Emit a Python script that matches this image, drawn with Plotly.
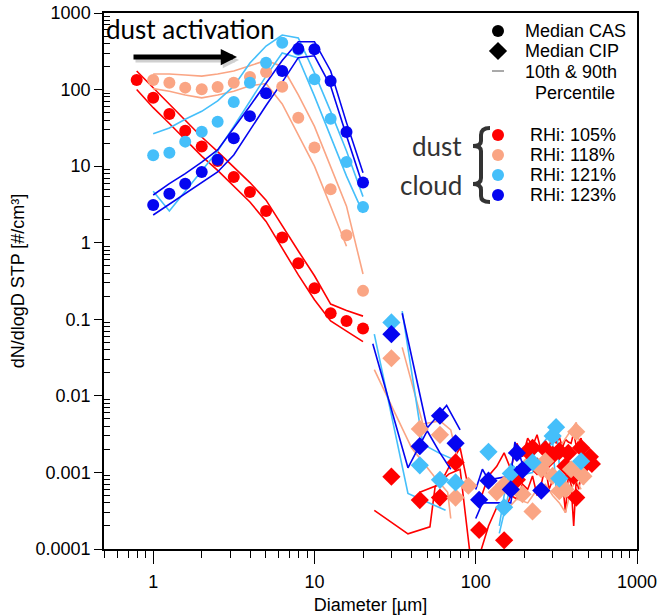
import plotly.graph_objects as go

# ---------------- data ----------------
x_cas = [0.79, 1.0, 1.26, 1.58, 2.0, 2.51, 3.16, 3.98, 5.01, 6.31, 7.94, 10.0, 12.6, 15.8, 20.0]

red_cas = [133, 78, 48, 29, 18, 11.7, 7.2, 4.6, 2.6, 1.17, 0.54, 0.255, 0.12, 0.095, 0.076]
red_cas_p90 = [175, 105, 64, 39, 24, 15.5, 9.6, 6.1, 3.6, 1.65, 0.78, 0.37, 0.158, 0.13, 0.11]
red_cas_p10 = [100, 58, 36, 22, 13.5, 8.8, 5.4, 3.4, 1.9, 0.83, 0.38, 0.18, 0.095, 0.07, 0.051]

x_cas2 = [1.0, 1.26, 1.58, 2.0, 2.51, 3.16, 3.98, 5.01, 6.31, 7.94, 10.0, 12.6, 15.8, 20.0]

salmon_cas = [133, 123, 106, 101, 108, 123, 146, 170, 109, 43, 17.5, 5.0, 1.25, 0.235]
salmon_cas_p90 = [160, 160, 155, 150, 160, 175, 205, 240, 200, 85, 33, 10, 3.0, 0.39]
salmon_cas_p10 = [103, 95, 85, 78, 85, 95, 112, 120, 65, 26, 10, 3.0, 0.9, None]

lblue_cas = [13.9, 15, 20.9, 28.2, 38, 69, 123, 224, 410, 330, 136, 41.7, 11.3, 2.93]
lblue_cas_p90 = [26.5, 31.5, 41, 52, 71, 111, 222, 370, 516, 472, 165, 52, 15.8, 4.0]
lblue_cas_p10 = [4.7, 2.6, 4.7, 8.6, 15.8, 33, 71, 150, 300, 259, 82, 25, 7.4, 2.45]

blue_cas = [3.11, 4.37, 5.9, 8.4, 12.1, 23.1, 45, 89.5, 175, 342, 336, 129, 27.9, 6.1]
blue_cas_p90 = [4.2, 5.9, 8.0, 11.3, 16.3, 31, 61, 121, 240, 422, 422, 175, 37, 8.2]
blue_cas_p10 = [2.3, 3.2, 4.4, 6.2, 8.4, 14, 30, 62, 125, 261, 276, 111, 25, 5.5]

red_cip_x = [30, 45, 60, 75, 105, 150, 180, 210, 225, 240, 270, 285, 300, 330, 360, 375, 405, 420, 450, 480, 510, 525]
red_cip = [0.00088, 0.000435, 0.00047, 0.00135, 0.000177, 0.00013, 0.0008, 0.0019, 0.0021, 0.0012,
           0.002, 0.0015, 0.0017, 0.0019, 0.0012, 0.0018, 0.0009, 0.00047, 0.0021, 0.0013, 0.0016, 0.00129]

salmon_cip_x = [30, 45, 60, 75, 90, 135, 150, 195, 225, 255, 270, 300, 330, 360, 390, 420, 450, 465]
salmon_cip = [0.031, 0.0037, 0.0031, 0.00047, 0.00067, 0.00055, 0.00069, 0.00052, 0.00031, 0.0011,
              0.0014, 0.0009, 0.00057, 0.0006, 0.0011, 0.0034, 0.00095, 0.00089]

lblue_cip_x = [30, 45, 60, 75, 120, 150, 165, 225, 300, 315, 330, 450]
lblue_cip = [0.091, 0.00124, 0.0008, 0.00074, 0.00186, 0.00035, 0.00097, 0.00135, 0.003, 0.0039, 0.00083, 0.0014]

blue_cip_x = [30, 45, 60, 75, 105, 120, 165, 180, 195, 255]
blue_cip = [0.064, 0.0022, 0.0055, 0.0024, 0.00044, 0.00078, 0.0006, 0.0018, 0.00108, 0.00058]

# CIP percentile lines (small sizes)
red_cip_p10_x = [23.5, 38, 52, 56, 68, 80, 95]
red_cip_p10 = [0.00032, 0.000158, 0.000195, 0.00065, 0.00095, 0.0011, 0.00005]
red_cip_p90_x = [45, 60, 70, 80, 88]
red_cip_p90 = [0.00055, 0.0007, 0.0013, 0.0021, 0.0008]
salmon_cip_p10_x = [23.5, 40, 55, 67, 70]
salmon_cip_p10 = [0.022, 0.0021, 0.0009, 0.00055, 0.00025]
salmon_cip_p90_x = [35, 47, 60, 70, 80]
salmon_cip_p90 = [0.043, 0.0043, 0.0047, 0.0036, 0.0011]
lblue_cip_p10_x = [23.5, 38, 65]
lblue_cip_p10 = [0.064, 0.00053, 0.00032]
lblue_cip_p90_x = [35, 47, 59, 77]
lblue_cip_p90 = [0.128, 0.00234, 0.0018, 0.0014]
blue_cip_p10_x = [23, 38, 50, 60, 70]
blue_cip_p10 = [0.048, 0.00115, 0.0035, 0.0018, 0.0011]
blue_cip_p90_x = [35, 50, 66, 80]
blue_cip_p90 = [0.12, 0.0038, 0.0075, 0.0036]

# CIP percentile lines (large sizes)
cl_x = [105, 120, 135, 150, 165, 180, 195, 210, 225, 240, 255, 270, 285, 300, 315, 330, 345, 360, 375, 390, 405, 420, 435, 450, 465, 480]
red_cl_p90 = [0.0004, 0.0009, 0.0012, 0.0018, 0.0011, 0.0024, 0.0016, 0.0028, 0.0022, 0.0031, 0.0019, 0.0026, 0.0021,
              0.0033, 0.0024, 0.0029, 0.0021, 0.0027, 0.0025, 0.0024, 0.0033, 0.0022, 0.0026, 0.0028, 0.0019, 0.0016]
red_cl_p10 = [0.00008, 0.0002, 0.00035, 0.0003, 0.0005, 0.00045, 0.0007, 0.0006, 0.0009, 0.0005, 0.0007, 0.0012, 0.0006,
              0.0008, 0.0009, 0.0005, 0.0008, 0.0003, 0.0009, 0.0007, 0.0002, 0.0008, 0.0006, 0.0009, 0.0007, 0.0011]
salmon_cl_x = [150, 180, 210, 240, 270, 300, 330, 360, 390, 420, 450]
salmon_cl_p90 = [0.0009, 0.0011, 0.0016, 0.0019, 0.0024, 0.0017, 0.0021, 0.0028, 0.0035, 0.0045, 0.0015]
salmon_cl_p10 = [0.0003, 0.00045, 0.0004, 0.0006, 0.0007, 0.0005, 0.0004, 0.0003, 0.0006, 0.0008, 0.0006]
lblue_cl_x = [140, 150, 165, 180, 225, 300, 315, 330]
lblue_cl_p90 = [0.0002, 0.0005, 0.0013, 0.0011, 0.0016, 0.0035, 0.0048, 0.0012]
lblue_cl_p10 = [0.00016, 0.0003, 0.0007, 0.0009, 0.001, 0.0025, 0.0006, 0.00045]
blue_cl_x = [100, 110, 120, 165, 175, 180, 195]
blue_cl_p90 = [0.0006, 0.0011, 0.0008, 0.0009, 0.0025, 0.0021, 0.0013]
blue_cl_p10 = [0.00025, 0.0004, 0.0004, 0.0004, 0.0009, 0.0012, 0.0008]

series_names = ["RHi: 105%", "RHi: 118%", "RHi: 121%", "RHi: 123%"]
colors = ["#FF0000", "#FAA584", "#45BFFA", "#0505F0"]

x_ticks = [1, 10, 100, 1000]
x_ticktext = ["1", "10", "100", "1000"]
y_ticks = [0.0001, 0.001, 0.01, 0.1, 1, 10, 100, 1000]
y_ticktext = ["0.0001", "0.001", "0.01", "0.1", "1", "10", "100", "1000"]

x_minor = [m * 10 ** e for e in range(-1, 3) for m in range(2, 10) if 0.5 <= m * 10 ** e <= 1000]
y_minor = [m * 10 ** e for e in range(-4, 3) for m in range(2, 10)]

FONT = "Liberation Sans, Arial, sans-serif"
CAL = "Lato, Carlito, sans-serif"

fig = go.Figure()

def line(x, y, c, w=1.6):
    fig.add_trace(go.Scatter(x=x, y=y, mode="lines", line=dict(color=c, width=w),
                             showlegend=False, hoverinfo="skip", connectgaps=False))

cas_sets = [
    (x_cas, red_cas_p10, red_cas_p90),
    (x_cas2, salmon_cas_p10, salmon_cas_p90),
    (x_cas2, lblue_cas_p10, lblue_cas_p90),
    (x_cas2, blue_cas_p10, blue_cas_p90),
]
for (xx, p10, p90), c in zip(cas_sets, colors):
    line(xx, p10, c)
    line(xx, p90, c)

cip_small = [
    (red_cip_p10_x, red_cip_p10, red_cip_p90_x, red_cip_p90),
    (salmon_cip_p10_x, salmon_cip_p10, salmon_cip_p90_x, salmon_cip_p90),
    (lblue_cip_p10_x, lblue_cip_p10, lblue_cip_p90_x, lblue_cip_p90),
    (blue_cip_p10_x, blue_cip_p10, blue_cip_p90_x, blue_cip_p90),
]
for (a, b, cc, d), c in zip(cip_small, colors):
    line(a, b, c)
    line(cc, d, c)

cip_large = [
    (cl_x, red_cl_p10, red_cl_p90),
    (salmon_cl_x, salmon_cl_p10, salmon_cl_p90),
    (lblue_cl_x, lblue_cl_p10, lblue_cl_p90),
    (blue_cl_x, blue_cl_p10, blue_cl_p90),
]
for (xx, p10, p90), c in zip(cip_large, colors):
    line(xx, p10, c, 1.6)
    line(xx, p90, c, 1.6)

cas_med = [(x_cas, red_cas), (x_cas2, salmon_cas), (x_cas2, lblue_cas), (x_cas2, blue_cas)]
cip_med = [(red_cip_x, red_cip), (salmon_cip_x, salmon_cip), (lblue_cip_x, lblue_cip), (blue_cip_x, blue_cip)]
for (xx, yy), (xc, yc), c, n in zip(cas_med, cip_med, colors, series_names):
    fig.add_trace(go.Scatter(x=xc, y=yc, mode="markers", name=n,
                             marker=dict(symbol="diamond", size=14, color=c, line=dict(width=0)),
                             showlegend=False))
    fig.add_trace(go.Scatter(x=xx, y=yy, mode="markers", name=n,
                             marker=dict(symbol="circle", size=12, color=c, line=dict(width=0)),
                             showlegend=False))

# ---------- overlay pixel axes for legend / annotations ----------
L, R, T, B = 104, 637, 13, 549
fig.add_trace(go.Scatter(x=[498], y=[31], xaxis="x2", yaxis="y2", mode="markers",
                         marker=dict(symbol="circle", size=12, color="black"), showlegend=False, hoverinfo="skip"))
fig.add_trace(go.Scatter(x=[498], y=[51], xaxis="x2", yaxis="y2", mode="markers",
                         marker=dict(symbol="diamond", size=14, color="black"), showlegend=False, hoverinfo="skip"))
fig.add_trace(go.Scatter(x=[492, 504], y=[71, 71], xaxis="x2", yaxis="y2", mode="lines",
                         line=dict(color="#555555", width=1), showlegend=False, hoverinfo="skip"))
leg_y = [135, 155, 175, 195]
fig.add_trace(go.Scatter(x=[498] * 4, y=leg_y, xaxis="x2", yaxis="y2", mode="markers",
                         marker=dict(symbol="circle", size=12, color=colors), showlegend=False, hoverinfo="skip"))

ann = []
def txt(x, y, s, size=18, font=FONT, color="black", xanchor="left"):
    ann.append(dict(x=x, y=y, xref="x2", yref="y2", text=s, showarrow=False,
                    xanchor=xanchor, yanchor="middle", font=dict(family=font, size=size, color=color)))

txt(523, 31, "Median CAS")
txt(523, 51, "Median CIP")
txt(523, 72, "10th &amp; 90th")
txt(533, 93, "Percentile")
for yy, n in zip(leg_y, series_names):
    txt(528, yy, n)
txt(464, 146, "dust", size=26, font=CAL, color="#333333", xanchor="right")
txt(464, 185, "cloud", size=26, font=CAL, color="#333333", xanchor="right")
txt(104, 29, "dust activation", size=26, font=CAL)

ann.append(dict(x=239, y=60, ax=134, ay=60, xref="x2", yref="y2", axref="x2", ayref="y2",
                text="", showarrow=True, arrowhead=2, arrowsize=0.65, arrowwidth=5,
                arrowcolor="rgba(0,0,0,0.18)"))
ann.append(dict(x=237, y=57, ax=132, ay=57, xref="x2", yref="y2", axref="x2", ayref="y2",
                text="", showarrow=True, arrowhead=2, arrowsize=0.65, arrowwidth=5,
                arrowcolor="black"))

brace = ("M 490 128 Q 481 128 481 135 L 481 141 Q 481 146 473 146 Q 481 146 481 151 "
         "L 481 178 Q 481 184 473 184 Q 481 184 481 190 L 481 196 Q 481 202 490 202")
shapes = [dict(type="path", path=brace, xref="x2", yref="y2",
               line=dict(color="#333333", width=4))]

fig.update_layout(
    width=660, height=615,
    margin=dict(l=L, r=660 - R, t=T, b=615 - B, autoexpand=False),
    paper_bgcolor="white", plot_bgcolor="white",
    font=dict(family=FONT, size=18, color="black"),
    showlegend=False,
    annotations=ann,
    shapes=shapes,
    xaxis=dict(type="log", range=[-0.305, 3.0], tickvals=x_ticks, ticktext=x_ticktext,
               automargin=False,
               showgrid=False, zeroline=False, showline=True, linecolor="black", linewidth=1.5,
               mirror=True, ticks="outside", ticklen=13, tickwidth=1.2, tickcolor="black",
               ticklabelstandoff=3,
               minor=dict(tickvals=x_minor, ticks="outside", ticklen=7, tickwidth=1,
                          tickcolor="black", showgrid=False),
               title=dict(text="Diameter [µm]", font=dict(size=18), standoff=8),
               tickfont=dict(size=18)),
    yaxis=dict(type="log", range=[-4, 3], tickvals=y_ticks, ticktext=y_ticktext,
               automargin=False,
               showgrid=False, zeroline=False, showline=True, linecolor="black", linewidth=1.5,
               mirror=True, ticks="outside", ticklen=8, tickwidth=1.2, tickcolor="black",
               minor=dict(tickvals=y_minor, ticks="inside", ticklen=6, tickwidth=1,
                          tickcolor="black", showgrid=False),
               title=dict(text="dN/dlogD STP [#/cm³]", font=dict(size=18), standoff=6),
               tickfont=dict(size=18)),
    xaxis2=dict(overlaying="x", anchor="y2", range=[L, R], visible=False, fixedrange=True),
    yaxis2=dict(overlaying="y", anchor="x2", range=[B, T], visible=False, fixedrange=True),
)

fig.write_html("out.html")
